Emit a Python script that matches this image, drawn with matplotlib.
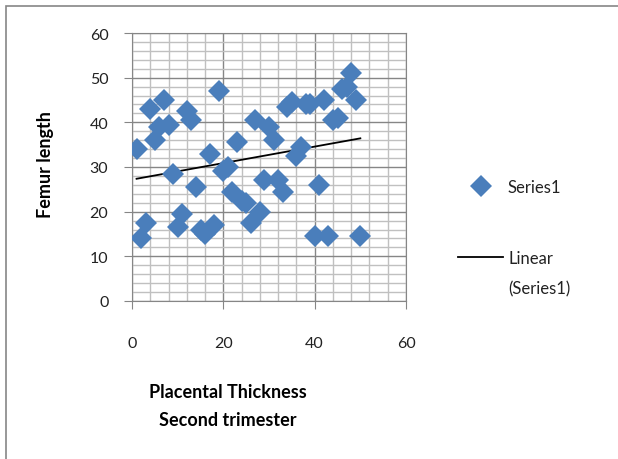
import numpy as np
import matplotlib
matplotlib.use("Agg")
import matplotlib.pyplot as plt
from matplotlib.patches import Rectangle
from matplotlib.ticker import MultipleLocator

plt.rcParams['font.family'] = ['Lato', 'DejaVu Sans']

# dane (Excel: x = numer punktu)
thickness = np.arange(1, 51)
femur = [34, 14, 17.5, 43, 36, 39, 45, 39.5, 28.5, 16.5,
         19.5, 42.5, 40.5, 25.5, 16, 15, 33, 17, 47, 29,
         30, 24.5, 35.5, 22.5, 22, 17.5, 40.5, 20, 27, 39,
         36, 27, 24.5, 43.5, 44.5, 32.5, 34.5, 44, 44, 14.5,
         26, 45, 14.5, 40.5, 41, 47.5, 48, 51, 45, 14.5]

x_ticks = [0, 20, 40, 60]
y_ticks = [0, 10, 20, 30, 40, 50, 60]

blue = "#4a7ebb"
major_grey = "#868686"
minor_grey = "#c0c0c0"
text_col = "#222222"

fig = plt.figure(figsize=(6.18, 4.6), dpi=100)
ax = fig.add_axes([132 / 618, 158 / 460, 274 / 618, 268 / 460])

# linia trendu
a, b = np.polyfit(thickness, femur, 1)
ax.plot(thickness, a * thickness + b, color="black", lw=1.3, zorder=3,
        label="Linear")

ax.plot(thickness, femur, linestyle="none", marker="D", ms=11,
        color=blue, markeredgewidth=0, zorder=4, label="Series1")

ax.set_xlim(0, 60)
ax.set_ylim(0, 60)
ax.set_xticks(x_ticks)
ax.set_yticks(y_ticks)
ax.xaxis.set_minor_locator(MultipleLocator(4))
ax.yaxis.set_minor_locator(MultipleLocator(2))
ax.grid(which="major", color=major_grey, lw=1.0, zorder=0)
ax.grid(which="minor", color=minor_grey, lw=1.0, zorder=0)
ax.set_axisbelow(True)
for s in ax.spines.values():
    s.set_color(major_grey)
ax.tick_params(which="minor", length=0)
ax.tick_params(axis="y", which="major", length=6, color=major_grey, pad=11,
               labelsize=11.5, labelcolor=text_col)
ax.tick_params(axis="x", which="major", length=6, color=major_grey, pad=19,
               labelsize=11.5, labelcolor=text_col)

ax.set_ylabel("Femur length", fontsize=13, fontweight="bold")
ax.yaxis.set_label_coords(-0.285, 0.511)
ax.set_xlabel("Placental Thickness\nSecond trimester", fontsize=13,
              fontweight="bold", linespacing=1.75, va="center")
ax.xaxis.set_label_coords(0.35, -0.39)

handles, labels = ax.get_legend_handles_labels()
leg = fig.legend(handles[::-1], labels[::-1], loc="upper left",
                 bbox_to_anchor=(443 / 618, 1 - 165 / 460), frameon=False,
                 fontsize=12, handlelength=2.7, handletextpad=0.3,
                 labelspacing=3.3, labelcolor=text_col)

# druga linia opisu trendu, pod "Linear"
fig.canvas.draw()
bb = leg.get_texts()[1].get_window_extent()
fig.text(bb.x0, bb.y0 - 30, "(Series1)", fontsize=12, color=text_col,
         transform=None, ha="left", va="bottom")

# ramka wykresu
fig.add_artist(Rectangle((6 / 618, -0.1), 1.1, 1.1 - 7 / 460,
                         transform=fig.transFigure, fill=False,
                         edgecolor=major_grey, lw=1.2, clip_on=False))

fig.savefig("out.png", dpi=100)
